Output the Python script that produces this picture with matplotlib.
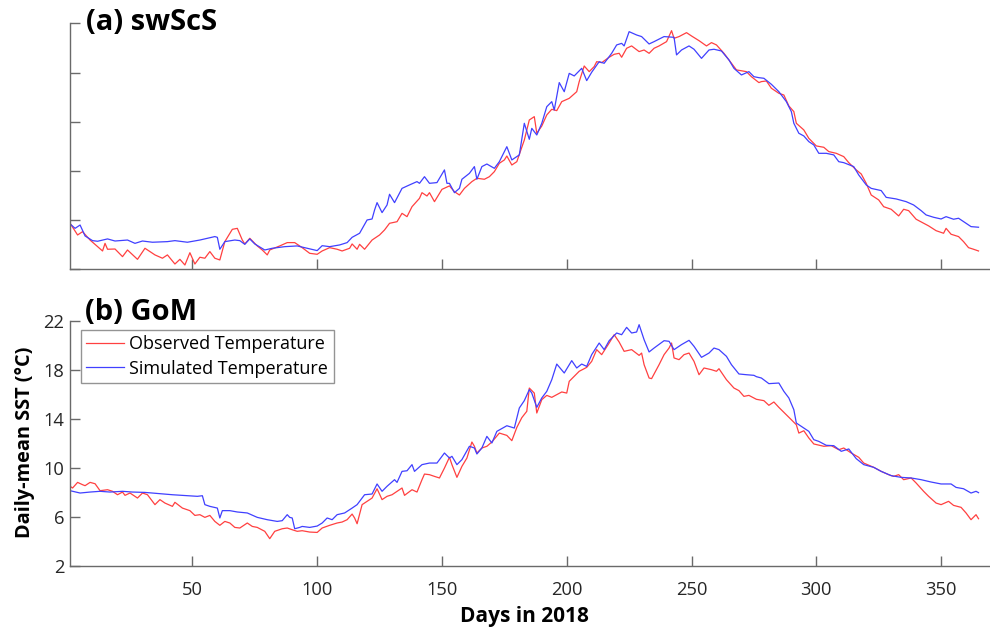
import matplotlib
matplotlib.use("Agg")
import matplotlib.pyplot as plt

# ---------------- data ----------------
# Panel (a) swScS
obs_a_day = [1, 4, 6, 9, 14, 15, 16, 19, 22, 24, 28, 31, 35, 38, 40, 43, 45, 47, 49, 51, 53, 55, 57, 59, 61,
             63, 66, 68, 70, 71, 73, 76, 78, 80, 81, 85, 88, 91, 94, 97, 100, 102, 105, 108, 110, 113, 114,
             116, 117, 119, 122, 125, 127, 129, 132, 134, 136, 138, 141, 142, 144, 145, 147, 150, 153, 155,
             157, 159, 162, 164, 167, 169, 171, 173, 175, 176, 178, 180, 183, 185, 187, 188, 190, 192, 194,
             196, 198, 201, 204, 205, 207, 209, 211, 212, 214, 217, 219, 221, 222, 224, 226, 229, 231, 233,
             235, 237, 240, 242, 243, 245, 248, 250, 253, 256, 258, 260, 263, 266, 268, 272, 274, 277, 278,
             280, 282, 285, 287, 289, 291, 292, 295, 297, 300, 303, 305, 308, 311, 313, 316, 318, 320, 322,
             325, 327, 330, 333, 335, 337, 340, 343, 345, 348, 351, 352, 354, 357, 359, 361, 363, 365]
obs_a_val = [5.74, 4.79, 5.06, 4.38, 3.49, 4.11, 3.63, 3.65, 3.03, 3.57, 2.81, 3.71, 3.17, 2.90, 3.17, 2.43,
             2.81, 2.35, 3.35, 2.43, 2.98, 2.90, 3.44, 2.90, 2.76, 4.25, 5.25, 5.33, 4.38, 4.06, 4.52, 3.90,
             3.57, 3.17, 3.57, 3.90, 4.17, 4.17, 3.76, 3.30, 3.22, 3.49, 3.76, 3.63, 3.49, 3.71, 4.06, 3.63,
             4.03, 3.63, 4.38, 4.79, 5.20, 5.74, 5.87, 6.55, 6.28, 7.09, 7.77, 8.23, 7.96, 8.23, 7.50, 8.50,
             8.78, 8.31, 8.04, 8.58, 9.13, 9.40, 9.32, 9.53, 9.94, 10.62, 10.89, 11.21, 10.48, 10.75, 12.51,
             14.14, 14.41, 13.06, 13.65, 14.55, 15.01, 14.90, 15.63, 15.90, 16.44, 17.26, 18.53, 18.07, 18.48,
             18.88, 18.80, 19.24, 19.48, 19.56, 19.24, 19.97, 20.16, 19.70, 19.83, 19.56, 19.97, 20.16, 20.51,
             21.40, 20.78, 20.92, 21.24, 20.97, 20.59, 20.16, 20.43, 20.24, 19.56, 18.75, 18.21, 18.07, 17.66,
             17.18, 17.26, 17.31, 16.72, 16.31, 16.17, 15.28, 14.82, 13.87, 13.33, 12.65, 12.03, 11.92, 11.57,
             11.43, 11.16, 10.67, 10.08, 9.75, 8.99, 8.04, 7.64, 7.09, 6.88, 6.34, 6.88, 6.77, 6.07, 5.74,
             5.53, 5.14, 4.93, 5.33, 4.85, 4.66, 4.25, 3.76, 3.63, 3.49]
sim_a_day = [1, 3, 5, 7, 10, 12, 16, 19, 24, 27, 30, 34, 40, 43, 48, 53, 57, 59, 60, 61, 63, 67, 69, 71, 73,
             75, 79, 82, 87, 92, 96, 100, 102, 105, 109, 112, 114, 117, 120, 122, 123, 124, 126, 128, 129,
             131, 134, 137, 140, 141, 143, 145, 148, 151, 152, 153, 155, 157, 158, 161, 163, 164, 166, 168,
             171, 173, 176, 178, 181, 183, 185, 186, 188, 190, 192, 194, 195, 197, 199, 201, 203, 206, 208,
             210, 213, 215, 218, 220, 222, 223, 225, 228, 230, 233, 235, 239, 243, 244, 246, 249, 251, 254,
             257, 259, 262, 265, 267, 270, 273, 275, 277, 279, 282, 285, 288, 290, 291, 293, 295, 297, 299,
             301, 304, 307, 309, 311, 315, 317, 320, 322, 326, 328, 332, 336, 339, 342, 344, 347, 350, 352,
             355, 357, 360, 362, 365]
sim_a_val = [5.69, 5.33, 5.60, 4.71, 4.33, 4.28, 4.47, 4.30, 4.38, 4.11, 4.30, 4.20, 4.25, 4.33, 4.20, 4.38,
             4.57, 4.66, 4.60, 3.63, 4.25, 4.38, 4.33, 4.03, 4.47, 4.06, 3.57, 3.71, 3.84, 3.90, 3.71, 3.52,
             3.92, 3.84, 3.98, 4.17, 4.60, 4.93, 6.01, 6.09, 6.82, 7.42, 6.61, 7.23, 8.10, 7.42, 8.58, 8.86,
             9.13, 8.99, 9.53, 8.99, 9.05, 10.08, 8.99, 8.99, 8.23, 8.58, 9.32, 9.80, 10.35, 9.32, 10.35,
             10.56, 10.21, 10.75, 11.97, 10.89, 11.30, 13.87, 12.57, 13.46, 12.92, 13.87, 15.22, 15.63,
             14.95, 17.18, 16.44, 17.93, 17.72, 18.34, 17.34, 18.02, 18.88, 18.75, 19.56, 20.24, 20.37,
             20.16, 21.32, 21.05, 20.92, 20.32, 20.51, 20.92, 20.86, 19.43, 19.83, 20.16, 19.89, 19.15,
             19.83, 19.89, 19.75, 19.02, 18.34, 17.80, 18.07, 17.66, 17.58, 17.53, 17.04, 16.44, 15.63,
             14.82, 13.87, 13.06, 12.84, 12.38, 12.11, 11.43, 11.43, 11.30, 10.75, 10.67, 10.35, 9.67, 8.86,
             8.58, 8.40, 7.85, 7.72, 7.50, 7.23, 6.77, 6.42, 6.23, 6.09, 6.28, 6.07, 6.15, 5.74, 5.47, 5.42]

# Panel (b) GoM
obs_b_day = [1, 2, 4, 6, 7, 9, 11, 13, 16, 18, 20, 22, 23, 25, 28, 30, 32, 35, 37, 39, 42, 43, 46, 49, 51,
             53, 55, 57, 59, 61, 63, 65, 67, 69, 72, 74, 76, 79, 81, 83, 86, 88, 90, 92, 94, 97, 100, 102,
             105, 108, 110, 112, 114, 115, 116, 118, 120, 122, 124, 126, 128, 130, 132, 134, 135, 138, 140,
             142, 143, 145, 147, 149, 151, 153, 154, 156, 158, 160, 162, 163, 164, 166, 168, 170, 173, 176,
             178, 180, 182, 184, 185, 187, 188, 190, 192, 194, 196, 198, 200, 201, 203, 205, 208, 210, 212,
             214, 217, 219, 221, 223, 226, 229, 230, 231, 233, 234, 237, 239, 241, 242, 243, 245, 247, 249,
             251, 253, 255, 258, 260, 261, 264, 267, 269, 271, 273, 276, 279, 281, 283, 285, 288, 290, 292,
             293, 295, 297, 299, 303, 306, 309, 311, 314, 317, 319, 323, 326, 329, 331, 333, 335, 338, 340,
             343, 345, 348, 350, 353, 355, 358, 360, 362, 364, 365]
obs_b_val = [8.49, 8.35, 8.81, 8.62, 8.54, 8.81, 8.70, 8.13, 8.21, 8.08, 7.80, 8.02, 7.75, 7.94, 7.53, 7.94,
             7.80, 6.99, 7.40, 7.12, 6.85, 7.18, 6.71, 6.50, 6.11, 6.17, 5.95, 6.11, 5.62, 5.30, 5.62, 5.49,
             5.13, 5.08, 5.49, 5.21, 5.13, 4.81, 4.21, 4.81, 5.02, 5.08, 4.94, 4.81, 4.86, 4.75, 4.72, 5.08,
             5.30, 5.49, 5.57, 5.76, 6.22, 5.90, 5.43, 6.99, 7.26, 7.53, 8.29, 7.40, 7.67, 7.80, 8.08, 8.35,
             7.75, 8.21, 8.02, 9.03, 9.49, 9.44, 9.30, 9.17, 9.98, 10.86, 10.26, 9.22, 10.12, 10.80, 12.11,
             11.76, 11.21, 11.62, 11.76, 12.11, 12.84, 12.65, 12.22, 13.30, 14.10, 14.62, 16.52, 16.11,
             14.48, 15.57, 15.92, 15.76, 15.98, 16.20, 16.11, 17.07, 17.48, 17.89, 18.21, 18.70, 19.66,
             19.25, 20.20, 20.88, 20.28, 19.52, 19.66, 19.19, 19.38, 18.43, 17.34, 17.29, 18.43, 19.25,
             19.79, 20.20, 18.98, 18.84, 19.25, 19.38, 18.70, 17.61, 18.16, 18.02, 17.89, 18.10, 17.20,
             16.52, 16.31, 15.84, 15.92, 15.60, 15.49, 15.11, 15.38, 14.94, 14.34, 13.93, 13.52, 12.84,
             13.03, 12.44, 11.95, 11.76, 11.81, 11.48, 11.62, 11.21, 10.86, 10.39, 10.04, 9.71, 9.44, 9.30,
             9.44, 9.03, 9.17, 8.76, 8.08, 7.67, 7.12, 6.99, 7.26, 6.93, 6.77, 6.31, 5.76, 6.17, 5.84]
sim_b_day = [1, 5, 9, 13, 17, 22, 26, 31, 37, 42, 48, 52, 54, 55, 57, 60, 61, 62, 65, 68, 72, 76, 80, 84,
             86, 88, 89, 90, 91, 93, 94, 97, 100, 102, 104, 106, 108, 111, 114, 116, 119, 122, 124, 126,
             128, 131, 132, 134, 136, 138, 139, 142, 145, 148, 151, 153, 154, 156, 158, 161, 163, 164, 166,
             168, 170, 172, 176, 179, 181, 183, 185, 186, 188, 190, 192, 194, 196, 199, 202, 204, 206, 208,
             210, 213, 215, 217, 220, 222, 224, 226, 228, 229, 231, 233, 235, 239, 241, 243, 246, 249, 251,
             254, 257, 259, 261, 264, 266, 269, 272, 275, 276, 278, 281, 285, 287, 289, 291, 292, 294, 297,
             299, 301, 304, 307, 310, 313, 316, 319, 323, 326, 330, 334, 338, 342, 346, 350, 354, 356, 359,
             362, 364, 365]
sim_b_val = [8.13, 7.94, 8.02, 8.08, 8.02, 8.08, 8.02, 7.99, 7.89, 7.80, 7.72, 7.67, 7.72, 6.99, 6.85,
             6.71, 5.90, 6.50, 6.50, 6.39, 6.31, 5.95, 5.76, 5.62, 5.68, 6.17, 5.95, 5.90, 5.02, 5.13, 5.21,
             5.13, 5.24, 5.49, 5.90, 5.76, 6.17, 6.31, 6.71, 6.99, 7.80, 7.86, 8.68, 8.08, 8.49, 9.03, 8.81,
             9.71, 9.76, 10.26, 9.71, 10.26, 10.39, 10.39, 11.21, 10.80, 10.94, 10.26, 10.67, 11.76, 11.62,
             11.13, 11.62, 12.57, 12.03, 12.98, 13.44, 13.25, 14.89, 15.49, 16.39, 16.11, 14.94, 15.71, 16.25,
             17.20, 18.48, 17.75, 18.76, 18.16, 18.48, 18.29, 19.25, 20.20, 19.66, 20.39, 21.02, 20.88,
             21.48, 21.02, 21.10, 21.70, 20.47, 19.47, 19.79, 20.39, 20.34, 19.66, 20.07, 20.42, 19.93,
             19.03, 19.38, 19.79, 19.66, 19.11, 18.43, 17.67, 17.61, 17.56, 17.45, 17.34, 16.88, 16.93,
             16.25, 15.71, 14.75, 13.66, 13.39, 12.98, 12.30, 12.16, 11.84, 11.81, 11.35, 11.54, 10.75,
             10.26, 10.04, 9.71, 9.36, 9.22, 9.17, 9.03, 8.84, 8.68, 8.68, 8.40, 8.29, 7.94, 8.08, 7.97]

y_ticks = [2, 6, 10, 14, 18, 22]
x_ticks = [50, 100, 150, 200, 250, 300, 350]
panel_titles = ["(a) swScS", "(b) GoM"]
legend_labels = ["Observed Temperature", "Simulated Temperature"]
xlabel_text = "Days in 2018"
ylabel_text = "Daily-mean SST (\u00b0C)"

# ---------------- styling ----------------
plt.rcParams['font.family'] = ['Open Sans', 'DejaVu Sans']
RED = '#ff4040'
BLUE = '#4040ff'
AXC = '#6a6a6a'

W, H = 990, 630
fig = plt.figure(figsize=(W / 100, H / 100), dpi=100)

def px_axes(left, top, right, bottom):
    return fig.add_axes([left / W, 1 - bottom / H, (right - left) / W, (bottom - top) / H])

ax_a = px_axes(70.1, 23.3, 990.0, 269.3)
ax_b = px_axes(70.1, 321.0, 990.0, 565.7)

for ax in (ax_a, ax_b):
    ax.set_xlim(1, 369.6)
    ax.set_ylim(2, 22)
    ax.set_yticks(y_ticks)
    ax.set_xticks(x_ticks)
    for s in ('top', 'right'):
        ax.spines[s].set_visible(False)
    for s in ('left', 'bottom'):
        ax.spines[s].set_color(AXC)
        ax.spines[s].set_linewidth(1.0)
    ax.tick_params(direction='in', length=7, width=1.0, color=AXC,
                   labelsize=13.2, labelcolor='#262626')
    ax.tick_params(axis='y', pad=4)
    ax.tick_params(axis='x', pad=11)

ax_a.plot(obs_a_day, obs_a_val, color=RED, lw=0.9)
ax_a.plot(sim_a_day, sim_a_val, color=BLUE, lw=0.9)
ax_a.tick_params(labelbottom=False, labelleft=False)

l1, = ax_b.plot(obs_b_day, obs_b_val, color=RED, lw=0.9)
l2, = ax_b.plot(sim_b_day, sim_b_val, color=BLUE, lw=0.9)

leg = ax_b.legend([l1, l2], legend_labels, loc='upper left',
                  bbox_to_anchor=((81 - 70.1) / 919.9, 1 - (330 - 321) / 244.7),
                  borderaxespad=0, fontsize=13.0, frameon=True, fancybox=False,
                  handlelength=2.1, handletextpad=0.27, labelspacing=0.35,
                  borderpad=0.3)
leg.get_frame().set_edgecolor('#7a7a7a')
leg.get_frame().set_linewidth(1.0)

fig.text(86 / W, 1 - 30 / H, panel_titles[0], fontsize=21, fontweight='bold',
         ha='left', va='baseline')
fig.text(85 / W, 1 - 320.5 / H, panel_titles[1], fontsize=21, fontweight='bold',
         ha='left', va='baseline')

fig.text(25 / W, 1 - 442 / H, ylabel_text, fontsize=14.3, fontweight='bold',
         rotation=90, ha='center', va='center')
fig.text(524 / W, 1 - 622 / H, xlabel_text, fontsize=15, fontweight='bold',
         ha='center', va='baseline')

fig.savefig('out.png', dpi=100)
